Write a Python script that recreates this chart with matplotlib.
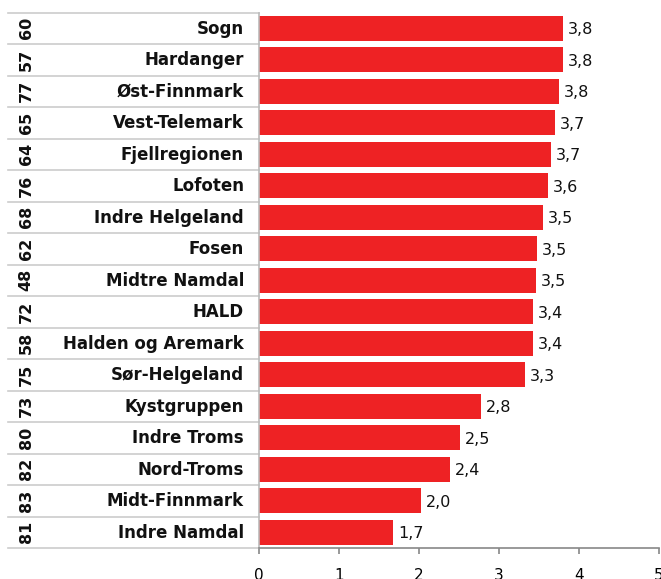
import numpy as np
import matplotlib.pyplot as plt
import matplotlib.transforms as mtransforms

# wide letters in the original, DejaVu fits the widths better than Arial-likes
plt.rcParams['font.family'] = ['DejaVu Sans']

codes = ["60", "57", "77", "65", "64", "76", "68", "62", "48", "72", "58", "75", "73", "80", "82", "83", "81"]
regions = ["Sogn", "Hardanger", "Øst-Finnmark", "Vest-Telemark", "Fjellregionen", "Lofoten",
           "Indre Helgeland", "Fosen", "Midtre Namdal", "HALD", "Halden og Aremark",
           "Sør-Helgeland", "Kystgruppen", "Indre Troms", "Nord-Troms", "Midt-Finnmark", "Indre Namdal"]
values = [3.80, 3.80, 3.75, 3.70, 3.65, 3.61, 3.55, 3.48, 3.46, 3.43, 3.43, 3.33, 2.78, 2.51, 2.39, 2.02, 1.68]
labels = ["3,8", "3,8", "3,8", "3,7", "3,7", "3,6", "3,5", "3,5", "3,5", "3,4", "3,4", "3,3",
          "2,8", "2,5", "2,4", "2,0", "1,7"]

W, H = 661, 579
fig = plt.figure(figsize=(W / 100, H / 100), dpi=100)
x0, x1, y0, y1 = 259, 659, 12.5, 548
ax = fig.add_axes([x0 / W, 1 - y1 / H, (x1 - x0) / W, (y1 - y0) / H])

y = np.arange(len(regions))
ax.barh(y, values, height=0.79, color="#ee2224")
ax.set_xlim(0, 5)
ax.set_ylim(len(regions) - 0.5, -0.5)

for yi, v, lab in zip(y, values, labels):
    ax.annotate(lab, (v, yi), xytext=(3.5, -1), textcoords="offset points",
                ha="left", va="center", fontsize=11.5, color="#111111")

# table on the left
tr = mtransforms.blended_transform_factory(ax.transAxes, ax.transData)
left = (8 - x0) / (x1 - x0)
for b in np.arange(len(regions) + 1) - 0.5:
    ax.plot([left, 0], [b, b], transform=tr, color="#cccccc", lw=1.2, clip_on=False)
for yi, code, name in zip(y, codes, regions):
    ax.text((244 - x0) / (x1 - x0), yi + 0.02, name, transform=tr, ha="right", va="center",
            fontsize=12, fontweight="bold", color="#111111")
    ax.text((26 - x0) / (x1 - x0), yi, code, transform=tr, ha="center", va="center",
            rotation=90, fontsize=11.5, fontweight="bold", color="#111111")

for s in ["top", "right"]:
    ax.spines[s].set_visible(False)
ax.spines["left"].set_color("#bbbbbb")
ax.spines["left"].set_linewidth(1.2)
ax.spines["bottom"].set_color("#888888")
ax.spines["bottom"].set_linewidth(1.2)
ax.set_yticks([])
ax.set_xticks(range(6))
ax.tick_params(axis="x", length=4, width=1.2, color="#888888", pad=10.5, labelsize=11)

fig.savefig("out.png", dpi=100)
